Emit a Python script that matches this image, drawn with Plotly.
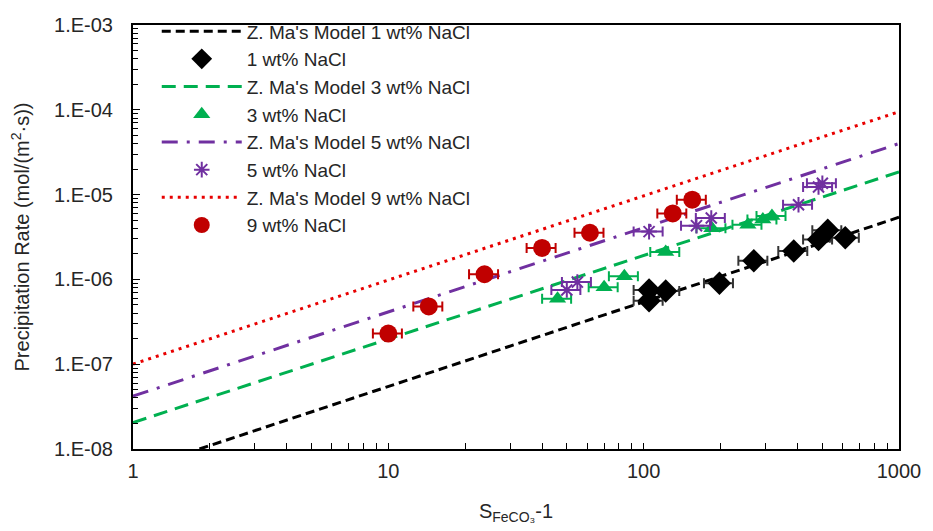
import plotly.graph_objects as go

# ---- data ----
model_x = [1, 1000]
model1_y = [5.5e-9, 5.4e-6]
model3_y = [2.05e-8, 1.85e-5]
model5_y = [4.2e-8, 4.0e-5]
model9_y = [1.0e-7, 9.5e-5]

nacl1_x = [105, 105, 122, 198, 270, 387, 484, 526, 616]
nacl1_y = [7.5e-7, 5.6e-7, 7.3e-7, 9.0e-7, 1.66e-6, 2.16e-6, 2.95e-6, 3.8e-6, 3.1e-6]

nacl3_x = [46, 70, 84, 122, 185, 256, 293, 318]
nacl3_y = [5.9e-7, 8.1e-7, 1.09e-6, 2.1e-6, 4.0e-6, 4.4e-6, 5.1e-6, 5.6e-6]

nacl5_x = [50, 55, 105, 161, 184, 404, 484, 501]
nacl5_y = [7.5e-7, 9.3e-7, 3.66e-6, 4.3e-6, 5.3e-6, 7.6e-6, 1.23e-5, 1.36e-5]

nacl9_x = [10, 14.4, 23.8, 40, 61.6, 130, 155]
nacl9_y = [2.3e-7, 4.8e-7, 1.15e-6, 2.35e-6, 3.55e-6, 6.0e-6, 8.7e-6]

err_pct = 13

y_tickvals = [1e-8, 1e-7, 1e-6, 1e-5, 1e-4, 1e-3]
y_ticktext = ["1.E-08", "1.E-07", "1.E-06", "1.E-05", "1.E-04", "1.E-03"]
x_tickvals = [1, 10, 100, 1000]
x_ticktext = ["1", "10", "100", "1000"]

FONT = "Liberation Sans, Arial, sans-serif"
TXT = "#262626"

fig = go.Figure()

def model(x, y, name, color, dash):
    fig.add_trace(go.Scatter(x=x, y=y, mode="lines", name=name,
                             line=dict(color=color, width=3, dash=dash)))

def pts(x, y, name, color, symbol, size, errcolor, lw=0):
    fig.add_trace(go.Scatter(
        x=x, y=y, mode="markers", name=name,
        marker=dict(color=color, symbol=symbol, size=size,
                    line=dict(color=color, width=lw)),
        error_x=dict(type="percent", value=err_pct, color=errcolor,
                     thickness=2, width=5)))

model(model_x, model1_y, "Z. Ma's Model 1 wt% NaCl", "black", "9px,5px")
pts(nacl1_x, nacl1_y, "1 wt% NaCl", "black", "diamond", 18, "#333333")
model(model_x, model3_y, "Z. Ma's Model 3 wt% NaCl", "#00B050", "14px,8px")
pts(nacl3_x, nacl3_y, "3 wt% NaCl", "#00B050", "triangle-up", 15, "#00B050")
model(model_x, model5_y, "Z. Ma's Model 5 wt% NaCl", "#7030A0", "16px,9px,3px,9px")
pts(nacl5_x, nacl5_y, "5 wt% NaCl", "#7030A0", "asterisk-open", 13, "#7030A0", lw=2)
model(model_x, model9_y, "Z. Ma's Model 9 wt% NaCl", "#E80000", "3px,5px")
pts(nacl9_x, nacl9_y, "9 wt% NaCl", "#C00000", "circle", 18, "#C00000")

minor_vals = [k * 10.0 ** e for e in range(-8, 3 + 1) for k in range(2, 10)]

fig.update_layout(
    width=933, height=531,
    margin=dict(l=133, r=28, t=14, b=80),
    plot_bgcolor="white", paper_bgcolor="white",
    font=dict(family=FONT, size=20, color=TXT),
    showlegend=True,
    legend=dict(x=0.031, y=1.03, xanchor="left", yanchor="top",
                bgcolor="rgba(255,255,255,0)", itemwidth=80,
                font=dict(size=19, color=TXT), tracegroupgap=0),
    xaxis=dict(type="log", range=[0, 3], tickmode="array",
               tickvals=x_tickvals, ticktext=x_ticktext,
               ticks="inside", ticklen=6, tickwidth=1, tickcolor="black",
               showline=True, linecolor="black", linewidth=2, mirror=True,
               showgrid=False, zeroline=False, ticklabelstandoff=3,
               minor=dict(ticks="inside", ticklen=6, tickcolor="black",
                          tickwidth=1, tickmode="array", tickvals=minor_vals,
                          showgrid=False),
               title=dict(text="S<sub>FeCO₃</sub>-1", font=dict(size=20, color=TXT),
                          standoff=23)),
    yaxis=dict(type="log", range=[-8, -3], tickmode="array",
               tickvals=y_tickvals, ticktext=y_ticktext,
               ticks="inside", ticklen=7, tickwidth=1, tickcolor="black",
               showline=True, linecolor="black", linewidth=2, mirror=True,
               showgrid=False, zeroline=False, ticklabelstandoff=14,
               minor=dict(ticks="inside", ticklen=5, tickcolor="black",
                          tickwidth=1, tickmode="array", tickvals=minor_vals,
                          showgrid=False),
               title=dict(text="Precipitation Rate (mol/(m<sup>2</sup>·s))",
                          font=dict(size=20, color=TXT), standoff=19)),
)

fig.write_html("out.html")
